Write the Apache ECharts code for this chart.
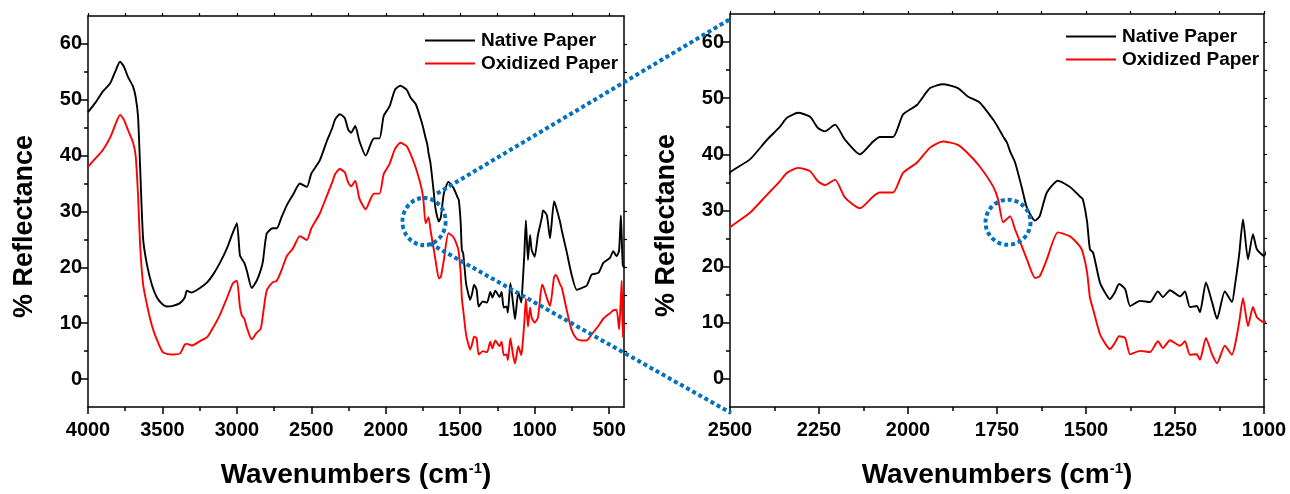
<!DOCTYPE html>
<html>
<head>
<meta charset="utf-8">
<script src="https://cdn.jsdelivr.net/npm/echarts@6/dist/echarts.min.js"></script>
<style>
html, body { margin: 0; padding: 0; background: #fff; }
#main { width: 1290px; height: 494px; }
</style>
</head>
<body>
<div id="main"></div>
<script>
// spectra (wavenumber in cm-1, % reflectance)
var wavenumbers = [
    4000, 3950, 3900, 3850, 3810, 3785, 3760, 3730, 3698, 3680, 3664, 3650, 3630, 3604, 3570, 3537,
    3500, 3470, 3430, 3382, 3350, 3336, 3302, 3248, 3200, 3160, 3114, 3067, 3026, 3000, 2980, 2967,
    2950, 2933, 2900, 2867, 2840, 2825, 2800, 2760, 2732, 2700, 2665, 2623, 2577, 2530, 2500,
    2444, 2396, 2360, 2340, 2309, 2275, 2253, 2233, 2205, 2177, 2135, 2098, 2079, 2042, 2014, 1975,
    1938, 1902, 1860, 1832, 1798, 1761, 1747, 1733, 1722, 1713, 1699, 1680, 1666, 1643, 1630, 1610,
    1579, 1545, 1517, 1509, 1497, 1489, 1480, 1461, 1445, 1433, 1420, 1407, 1390, 1376, 1348, 1320,
    1298, 1284, 1264, 1236, 1222, 1208, 1189, 1180, 1163, 1146, 1132, 1110, 1090, 1082, 1070, 1059,
    1045, 1031, 1020, 1000, 978, 951, 944, 918, 897, 870, 858, 830, 817, 786, 752, 718, 685, 651,
    617, 572, 539, 494, 472, 450, 433, 421, 415, 408, 400
];
var nativePaper = [
    47.8, 49.5, 51.5, 53.0, 55.5, 56.8, 56.0, 54.0, 52.4, 50.5, 47.0, 38.0, 25.2, 20.5, 16.8, 14.6,
    13.4, 13.0, 13.1, 13.6, 14.6, 15.8, 15.5, 16.3, 17.3, 18.7, 20.8, 23.4, 26.3, 27.9, 22.2, 21.5,
    20.8, 19.4, 16.3, 17.6, 19.5, 21.1, 26.0, 27.0, 27.0, 29.0, 31.1, 33.0, 35.0, 34.4, 36.8,
    39.1, 42.6, 44.9, 46.5, 47.4, 46.7, 44.7, 44.1, 45.3, 42.6, 40.0, 42.3, 43.1, 43.1, 47.1, 48.8,
    51.8, 52.5, 51.8, 50.3, 49.2, 46.2, 44.8, 43.2, 42.1, 40.5, 38.5, 34.0, 30.5, 28.2, 29.0, 33.2,
    35.3, 34.2, 32.5, 32.0, 28.0, 23.1, 22.5, 17.2, 15.2, 14.2, 15.3, 16.9, 16.0, 13.0, 13.9, 13.7,
    15.6, 14.6, 15.8, 14.7, 15.6, 12.8, 13.0, 11.9, 17.2, 13.7, 10.7, 15.6, 13.7, 16.5, 22.0, 28.4,
    21.3, 25.8, 23.1, 21.9, 25.8, 29.0, 30.2, 29.3, 25.2, 31.8, 31.0, 28.2, 26.5, 22.9, 18.7, 16.0, 16.3, 16.7,
    18.7, 19.0, 20.8, 21.7, 22.9, 22.0, 23.0, 29.3, 25.2, 20.4, 20.0
];
var oxidizedPaper = [
    38.0, 39.5, 41.0, 43.3, 46.0, 47.3, 46.5, 44.5, 42.4, 40.0, 33.0, 24.0, 17.0, 13.3, 9.5, 7.0,
    4.9, 4.5, 4.4, 4.6, 6.2, 6.3, 6.0, 6.8, 7.5, 9.2, 11.5, 14.5, 17.2, 17.6, 13.0, 11.4,
    10.8, 9.2, 7.1, 8.3, 9.0, 11.5, 15.8, 17.3, 17.6, 19.5, 22.0, 23.4, 25.6, 24.9, 27.0,
    29.6, 32.8, 35.2, 36.7, 37.6, 37.0, 35.2, 34.5, 35.5, 32.3, 30.4, 32.5, 33.2, 33.2, 36.7, 38.5,
    41.2, 42.3, 41.7, 40.2, 37.8, 34.3, 32.0, 27.9, 28.5, 29.0, 26.6, 23.6, 21.3, 18.0, 18.3, 21.3,
    26.1, 25.4, 23.6, 22.5, 19.0, 14.5, 12.4, 8.0, 6.2, 5.3, 6.3, 7.6, 7.3, 4.4, 5.0, 4.8,
    6.7, 5.5, 6.9, 5.9, 6.7, 4.3, 4.4, 3.4, 7.3, 4.4, 2.8, 5.9, 4.3, 5.9, 10.0, 14.4,
    9.4, 12.8, 11.0, 10.1, 11.0, 16.9, 16.7, 14.5, 13.1, 18.2, 18.7, 17.0, 16.3, 12.5, 8.8, 7.2, 6.9, 6.9,
    8.0, 9.5, 10.8, 11.8, 12.3, 12.4, 8.9, 14.6, 17.6, 7.5, 10.0
];

// tick labels
var fullTicks = [4000, 3500, 3000, 2500, 2000, 1500, 1000, 500];
var fullMinor = [3750, 3250, 2750, 2250, 1750, 1250, 750];
var zoomTicks = [2500, 2250, 2000, 1750, 1500, 1250, 1000];
var zoomMinor = [2375, 2125, 1875, 1625, 1375, 1125];
var yTicks = [0, 10, 20, 30, 40, 50, 60];
var yMinor = [5, 15, 25, 35, 45, 55];

var FONT = '"Liberation Sans", Arial, sans-serif';

function pairs(xs, ys) {
    return xs.map(function (w, i) { return [w, ys[i]]; });
}

function plain(v) {
    return String(v);
}

function xAxes(g, min, max, major, minor) {
    return [
        {
            gridIndex: g, type: 'value', inverse: true, min: min, max: max, position: 'bottom',
            axisLine: { onZero: false, lineStyle: { color: '#000', width: 1.5 } },
            axisTick: { customValues: major, length: 7, lineStyle: { color: '#000', width: 1.5 } },
            axisLabel: { customValues: major, formatter: plain, margin: 13, color: '#000', fontSize: 20, fontWeight: 'bold', fontFamily: FONT },
            splitLine: { show: false },
            name: 'Wavenumbers (cm{sup|-1})',
            nameLocation: 'middle',
            nameGap: 54,
            nameTextStyle: {
                color: '#000', fontSize: 28, fontWeight: 'bold', fontFamily: FONT,
                rich: { sup: { color: '#000', fontSize: 15, fontWeight: 'bold', fontFamily: FONT, verticalAlign: 'top' } }
            }
        },
        {
            gridIndex: g, type: 'value', inverse: true, min: min, max: max, position: 'bottom',
            axisLine: { show: false, onZero: false },
            axisTick: { customValues: minor, length: 4, lineStyle: { color: '#000', width: 1.5 } },
            axisLabel: { show: false },
            splitLine: { show: false }
        },
        {
            gridIndex: g, type: 'value', inverse: true, min: min, max: max, position: 'top',
            axisLine: { onZero: false, lineStyle: { color: '#000', width: 1.5 } },
            axisTick: { customValues: major.concat(minor), length: 3, lineStyle: { color: '#000', width: 1.2 } },
            axisLabel: { show: false },
            splitLine: { show: false }
        }
    ];
}

function yAxes(g) {
    return [
        {
            gridIndex: g, type: 'value', min: -5, max: 65, position: 'left',
            axisLine: { onZero: false, lineStyle: { color: '#000', width: 1.5 } },
            axisTick: { customValues: yTicks, length: 7, lineStyle: { color: '#000', width: 1.5 } },
            axisLabel: { customValues: yTicks, formatter: plain, margin: 6, color: '#000', fontSize: 20, fontWeight: 'bold', fontFamily: FONT },
            splitLine: { show: false },
            name: '% Reflectance',
            nameLocation: 'middle',
            nameRotate: 90,
            nameGap: 50,
            nameTextStyle: { color: '#000', fontSize: 27, fontWeight: 'bold', fontFamily: FONT, padding: [0, 30, 0, 0] }
        },
        {
            gridIndex: g, type: 'value', min: -5, max: 65, position: 'left',
            axisLine: { show: false, onZero: false },
            axisTick: { customValues: yMinor, length: 4, lineStyle: { color: '#000', width: 1.5 } },
            axisLabel: { show: false },
            splitLine: { show: false }
        },
        {
            gridIndex: g, type: 'value', min: -5, max: 65, position: 'right',
            axisLine: { onZero: false, lineStyle: { color: '#000', width: 1.5 } },
            axisTick: { customValues: yTicks.concat(yMinor), length: 3, lineStyle: { color: '#000', width: 1.2 } },
            axisLabel: { show: false },
            splitLine: { show: false }
        }
    ];
}

function lineSeries(name, color, data, axisIndex) {
    return {
        name: name, type: 'line', data: data, xAxisIndex: axisIndex, yAxisIndex: axisIndex,
        showSymbol: false, symbol: 'none', smooth: 0.2, animation: false,
        lineStyle: { color: color, width: 1.9 }, itemStyle: { color: color }
    };
}

function legendAt(left, top) {
    return {
        orient: 'vertical', left: left, top: top,
        icon: 'rect', itemWidth: 50, itemHeight: 2, itemGap: 4,
        data: ['Native Paper', 'Oxidized Paper'],
        textStyle: { color: '#000', fontSize: 19, fontWeight: 'bold', fontFamily: FONT, padding: [0, 0, 0, 1] }
    };
}

var nativeData = pairs(wavenumbers, nativePaper);
var oxidizedData = pairs(wavenumbers, oxidizedPaper);

var myChart = echarts.init(document.getElementById('main'), null, { renderer: 'canvas' });
var option = {
    animation: false,
    backgroundColor: '#fff',
    grid: [
        { left: 88, top: 16, width: 536, height: 394 },
        { left: 730, top: 14, width: 534, height: 394 }
    ],
    legend: [legendAt(420, 26), legendAt(1061, 22)],
    xAxis: xAxes(0, 400, 4000, fullTicks, fullMinor).concat(xAxes(1, 1000, 2500, zoomTicks, zoomMinor)),
    yAxis: yAxes(0).concat(yAxes(1)),
    series: [
        lineSeries('Native Paper', '#000', nativeData, 0),
        lineSeries('Oxidized Paper', '#ff0000', oxidizedData, 0),
        lineSeries('Native Paper', '#000', nativeData, 3),
        lineSeries('Oxidized Paper', '#ff0000', oxidizedData, 3)
    ]
};
myChart.setOption(option);

// dotted ellipses and zoom connectors
var blue = '#0070c0';
var dotStyle = { stroke: blue, lineWidth: 4, lineDash: [4, 3], fill: null };
var c0 = myChart.convertToPixel({ xAxisIndex: 0, yAxisIndex: 0 }, [1743, 28.2]);
var c1 = myChart.convertToPixel({ xAxisIndex: 3, yAxisIndex: 3 }, [1719, 27.9]);
var tl = myChart.convertToPixel({ xAxisIndex: 3, yAxisIndex: 3 }, [2500, 65]);
var bl = myChart.convertToPixel({ xAxisIndex: 3, yAxisIndex: 3 }, [2500, -5]);
myChart.setOption({
    graphic: [
        { type: 'circle', x: c0[0], y: c0[1], scaleX: 0.96, scaleY: 1.05, shape: { cx: 0, cy: 0, r: 22.5 }, style: dotStyle, z: 100 },
        { type: 'circle', x: c1[0], y: c1[1], shape: { cx: 0, cy: 0, r: 22.5 }, style: dotStyle, z: 100 },
        { type: 'line', shape: { x1: c0[0] + 13, y1: c0[1] - 28, x2: tl[0] + 2, y2: tl[1] + 4 }, style: dotStyle, z: 100 },
        { type: 'line', shape: { x1: c0[0] + 6, y1: c0[1] + 22, x2: bl[0] + 1, y2: bl[1] + 6 }, style: dotStyle, z: 100 }
    ]
});
</script>
</body>
</html>
